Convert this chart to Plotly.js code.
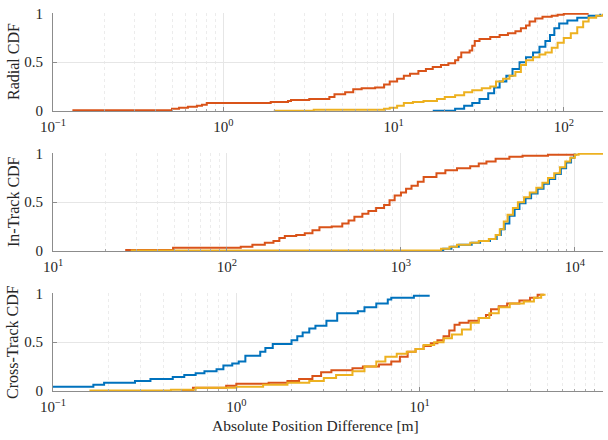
<!DOCTYPE html>
<html><head><meta charset="utf-8">
<script src="https://cdn.plot.ly/plotly-3.0.1.min.js"></script>
<style>html,body{margin:0;padding:0;background:#fff}#plot{width:608px;height:440px}</style>
</head><body><div id="plot"></div>
<script>
// ---------- Radial ----------
const radialBlueX = [17, 23, 26, 29, 32, 36, 39, 42, 46, 50, 55, 60, 66, 72, 78, 83, 88, 94, 105, 120, 140, 164];
const radialBlueY = [0, 0.02, 0.05, 0.08, 0.12, 0.18, 0.24, 0.3, 0.36, 0.43, 0.5, 0.55, 0.6, 0.66, 0.72, 0.78, 0.85, 0.9, 0.93, 0.96, 0.98, 1.0];
const radialOrangeX = [0.13, 0.5, 0.55, 0.62, 0.7, 0.75, 0.8, 1.9, 2.4, 2.5, 3.2, 4.2, 4.5, 5.2, 5.8, 6.5, 7.8, 8.8, 9.5, 10.5, 11.5, 12.5, 14, 15.5, 17, 19, 21, 23, 24, 25, 28, 29, 30, 32, 37, 42, 47, 52, 56, 60, 63, 68, 75, 85, 92, 100, 140];
const radialOrangeY = [0.005, 0.02, 0.03, 0.04, 0.05, 0.06, 0.08, 0.09, 0.1, 0.11, 0.12, 0.14, 0.17, 0.19, 0.22, 0.23, 0.24, 0.27, 0.3, 0.33, 0.36, 0.38, 0.41, 0.43, 0.45, 0.47, 0.49, 0.52, 0.55, 0.6, 0.62, 0.67, 0.72, 0.74, 0.76, 0.78, 0.8, 0.82, 0.85, 0.88, 0.92, 0.95, 0.97, 0.98, 0.99, 1.0, 1.0];
const radialYellowX = [1.98, 3.4, 8.8, 9.5, 10.5, 11.5, 13, 15, 18, 20, 23, 26, 29, 33, 37, 40, 44, 48, 52, 56, 60, 66, 72, 78, 85, 92, 100, 110, 120, 130, 140, 155, 170];
const radialYellowY = [0, 0.01, 0.02, 0.03, 0.05, 0.08, 0.09, 0.1, 0.12, 0.14, 0.16, 0.19, 0.21, 0.23, 0.25, 0.3, 0.33, 0.36, 0.4, 0.47, 0.52, 0.55, 0.58, 0.6, 0.65, 0.7, 0.75, 0.8, 0.86, 0.92, 0.96, 0.98, 1.0];

// ---------- In-Track ----------
const inBlueX = [1700, 1750, 1950, 2150, 2550, 2850, 3250, 3550, 3750, 3950, 4200, 4500, 4800, 5200, 5600, 6100, 6600, 7100, 7700, 8300, 8900, 9500, 9900, 10100];
const inBlueY = [0, 0.02, 0.04, 0.06, 0.08, 0.1, 0.12, 0.16, 0.22, 0.28, 0.36, 0.43, 0.49, 0.54, 0.59, 0.64, 0.69, 0.74, 0.79, 0.85, 0.91, 0.96, 0.99, 1.0];
const inOrangeX = [26, 49, 120, 140, 165, 185, 200, 215, 250, 280, 310, 340, 400, 460, 500, 540, 600, 650, 720, 800, 860, 920, 1000, 1070, 1150, 1250, 1350, 1600, 1800, 2100, 2500, 2800, 3100, 3500, 4200, 5000, 7000, 10000];
const inOrangeY = [0.005, 0.03, 0.04, 0.06, 0.08, 0.1, 0.13, 0.15, 0.16, 0.18, 0.21, 0.24, 0.25, 0.28, 0.31, 0.35, 0.38, 0.41, 0.44, 0.47, 0.52, 0.57, 0.6, 0.64, 0.67, 0.71, 0.76, 0.8, 0.83, 0.85, 0.87, 0.9, 0.92, 0.95, 0.97, 0.98, 0.99, 1.0];
const inYellowX = [28, 1700, 1900, 2100, 2500, 2800, 3200, 3500, 3700, 3900, 4100, 4400, 4700, 5100, 5500, 6000, 6500, 7000, 7600, 8200, 8800, 9400, 10000, 10500, 14500];
const inYellowY = [0, 0.02, 0.04, 0.06, 0.08, 0.1, 0.12, 0.16, 0.22, 0.3, 0.37, 0.44, 0.5, 0.55, 0.6, 0.65, 0.7, 0.75, 0.8, 0.86, 0.92, 0.96, 0.99, 1.0, 1.0];

// ---------- Cross-Track ----------
const crossBlueX = [0.1, 0.166, 0.19, 0.28, 0.34, 0.45, 0.52, 0.6, 0.67, 0.78, 0.85, 0.95, 1.03, 1.12, 1.35, 1.44, 1.58, 2.0, 2.15, 2.3, 2.5, 2.7, 3.1, 3.55, 4.6, 5.0, 5.8, 6.7, 7.0, 9.3, 11.2];
const crossBlueY = [0.04, 0.06, 0.08, 0.1, 0.12, 0.14, 0.16, 0.18, 0.2, 0.22, 0.26, 0.28, 0.3, 0.36, 0.4, 0.44, 0.48, 0.52, 0.56, 0.6, 0.64, 0.67, 0.72, 0.8, 0.82, 0.86, 0.9, 0.94, 0.96, 0.98, 0.99];
const crossOrangeX = [0.5, 0.58, 0.88, 1.0, 1.5, 1.9, 2.2, 2.6, 2.9, 3.3, 4.3, 4.9, 6, 7, 7.8, 8.6, 9.5, 10.5, 11.5, 12.5, 13.5, 14.5, 15.5, 16.5, 18.5, 21, 23, 24.5, 27, 30, 35, 40, 44, 47];
const crossOrangeY = [0, 0.03, 0.05, 0.07, 0.08, 0.1, 0.12, 0.15, 0.19, 0.21, 0.23, 0.25, 0.27, 0.3, 0.35, 0.4, 0.43, 0.46, 0.49, 0.52, 0.56, 0.62, 0.68, 0.7, 0.72, 0.75, 0.78, 0.84, 0.87, 0.9, 0.93, 0.96, 0.99, 1.0];
const crossYellowX = [0.158, 0.44, 0.6, 1.0, 1.4, 1.9, 2.5, 3.0, 3.5, 4.3, 5.0, 5.8, 6.5, 7.5, 8.5, 9.5, 10.5, 12, 13.5, 15, 17, 19, 21, 24, 27, 31, 37, 42, 46, 48];
const crossYellowY = [0, 0.01, 0.03, 0.04, 0.06, 0.08, 0.1, 0.13, 0.16, 0.2, 0.25, 0.3, 0.35, 0.38, 0.4, 0.43, 0.47, 0.5, 0.54, 0.58, 0.63, 0.7, 0.75, 0.8, 0.86, 0.9, 0.92, 0.96, 0.99, 1.0];

const yTickVals = [0, 0.5, 1];
const yTickText = ['0', '0.5', '1'];
const x1TickVals = [0.1, 1, 10, 100];
const x2TickVals = [10, 100, 1000, 10000];
const x3TickVals = [0.1, 1, 10, 100];
const x1TickText = ['10<sup>−1</sup>', '10<sup>0</sup>', '10<sup>1</sup>', '10<sup>2</sup>'];
const x2TickText = ['10<sup>1</sup>', '10<sup>2</sup>', '10<sup>3</sup>', '10<sup>4</sup>'];
const x3TickText = ['10<sup>−1</sup>', '10<sup>0</sup>', '10<sup>1</sup>', '10<sup>2</sup>'];
const yTitles = ['Radial CDF', 'In-Track CDF', 'Cross-Track CDF'];
const xTitle = 'Absolute Position Difference [m]';

const BLUE = '#0072BD', ORANGE = '#D95319', YELLOW = '#EDB120';
const FONT = 'Liberation Serif';
const TXT = '#262626';

function minorVals(d0, d1) {
  const v = [];
  for (let d = d0; d <= d1; d++) for (let k = 2; k <= 9; k++) v.push(k * Math.pow(10, d));
  return v;
}

function tr(x, y, c, xa, ya) {
  return {x: x, y: y, type: 'scatter', mode: 'lines', line: {color: c, width: 2, shape: 'hv'},
          xaxis: xa, yaxis: ya, showlegend: false, hoverinfo: 'skip'};
}
const data = [
  tr(radialBlueX, radialBlueY, BLUE, 'x', 'y'),
  tr(radialOrangeX, radialOrangeY, ORANGE, 'x', 'y'),
  tr(radialYellowX, radialYellowY, YELLOW, 'x', 'y'),
  tr(inBlueX, inBlueY, BLUE, 'x2', 'y2'),
  tr(inOrangeX, inOrangeY, ORANGE, 'x2', 'y2'),
  tr(inYellowX, inYellowY, YELLOW, 'x2', 'y2'),
  tr(crossBlueX, crossBlueY, BLUE, 'x3', 'y3'),
  tr(crossOrangeX, crossOrangeY, ORANGE, 'x3', 'y3'),
  tr(crossYellowX, crossYellowY, YELLOW, 'x3', 'y3')
];

function xax(range, vals, text, minor, anchor) {
  return {type: 'log', range: range, tickmode: 'array', tickvals: vals, ticktext: text, anchor: anchor,
    showline: true, linecolor: '#8c8c8c', linewidth: 1, mirror: false,
    ticks: 'inside', ticklen: 4, tickcolor: '#8c8c8c', ticklabelstandoff: 2,
    showgrid: true, gridcolor: '#e6e6e6', gridwidth: 1, zeroline: false,
    minor: {tickmode: 'array', tickvals: minor, showgrid: true, gridcolor: '#ececec', griddash: 'dot', gridwidth: 1,
            ticks: 'inside', ticklen: 2, tickcolor: '#a8a8a8'},
    tickfont: {family: FONT, size: 15, color: TXT}};
}
function yax(domain, anchor) {
  return {domain: domain, anchor: anchor, range: [-0.004, 1.008], tickmode: 'array', tickvals: yTickVals, ticktext: yTickText,
    showline: true, linecolor: '#8c8c8c', linewidth: 1, ticks: 'inside', ticklen: 4, tickcolor: '#8c8c8c',
    ticklabelstandoff: 6,
    showgrid: true, gridcolor: '#e6e6e6', zeroline: false,
    tickfont: {family: FONT, size: 15, color: TXT}};
}

const PLOT_L = 53, PLOT_W = 550, PLOT_H = 378;
const domains = [[0.7407, 1], [0.3704, 0.6296], [0, 0.2593]];
const annotations = yTitles.map((t, i) => ({
  text: t, textangle: -90, xref: 'paper', yref: 'paper',
  x: (13 - PLOT_L) / PLOT_W, y: (domains[i][0] + domains[i][1]) / 2,
  xanchor: 'center', yanchor: 'middle', showarrow: false,
  font: {family: FONT, size: 16, color: TXT}
}));
annotations.push({
  text: xTitle, xref: 'paper', yref: 'paper',
  x: (315 - PLOT_L) / PLOT_W, y: -34 / PLOT_H, xanchor: 'center', yanchor: 'middle', showarrow: false,
  font: {family: FONT, size: 15.5, color: TXT}
});

const layout = {
  width: 608, height: 440,
  margin: {l: PLOT_L, r: 5, t: 13, b: 49},
  paper_bgcolor: '#ffffff', plot_bgcolor: '#ffffff',
  xaxis: xax([-1, Math.log10(170)], x1TickVals, x1TickText, minorVals(-1, 2), 'y'),
  yaxis: yax(domains[0], 'x'),
  xaxis2: xax([1, Math.log10(14500)], x2TickVals, x2TickText, minorVals(1, 4), 'y2'),
  yaxis2: yax(domains[1], 'x2'),
  xaxis3: xax([-1, 2], x3TickVals, x3TickText, minorVals(-1, 1), 'y3'),
  yaxis3: yax(domains[2], 'x3'),
  annotations: annotations
};

Plotly.newPlot('plot', data, layout, {staticPlot: true, displayModeBar: false});
</script></body></html>
